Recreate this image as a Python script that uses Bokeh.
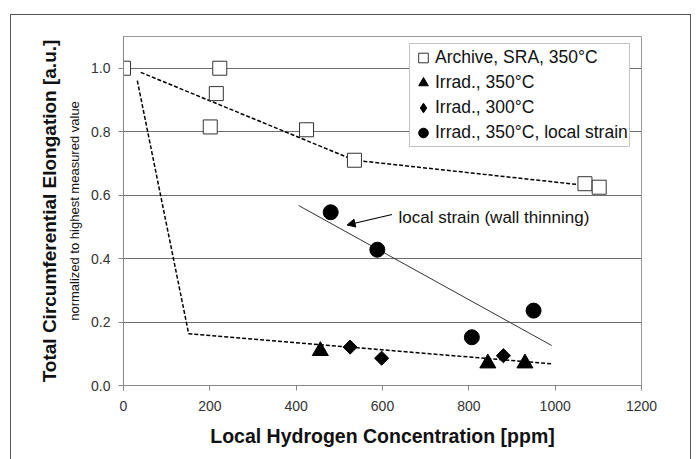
import numpy as np
from bokeh.plotting import figure
from bokeh.models import (Legend, LegendItem, Label, Arrow, NormalHead, LinearAxis,
                          FixedTicker, PrintfTickFormatter, Range1d, InlineStyleSheet)
from bokeh.embed import file_html
from bokeh.resources import INLINE

# ---- data ----
archive_h = [0, 201, 215, 223, 424, 535, 1069, 1102]
archive_el = [1.0, 0.815, 0.92, 1.0, 0.806, 0.71, 0.636, 0.625]
irr350_h = [456, 844, 930]
irr350_el = [0.109, 0.070, 0.070]
irr300_h = [525, 598, 880]
irr300_el = [0.121, 0.086, 0.094]
local_h = [480, 588, 807, 950]
local_el = [0.546, 0.428, 0.152, 0.236]
archive_trend_h = [40, 535, 1055]
archive_trend_el = [0.987, 0.71, 0.633]
irrad_trend_h = [32, 151, 994]
irrad_trend_el = [0.961, 0.163, 0.068]
local_trend_h = [406, 992]
local_trend_el = [0.567, 0.126]
x_ticks = [0, 200, 400, 600, 800, 1000, 1200]
y_ticks = [0.0, 0.2, 0.4, 0.6, 0.8, 1.0]
series_labels = ["Archive, SRA, 350°C", "Irrad., 350°C", "Irrad., 300°C",
                 "Irrad., 350°C, local strain"]
note_text = "local strain (wall thinning)"
x_title = "Local Hydrogen Concentration [ppm]"
y_title = "Total Circumferential Elongation [a.u.]"
y_subtitle = "normalized to highest measured value"

FONT = "Liberation Sans"

frame_css = InlineStyleSheet(css="""
:host { overflow: hidden; }
:host::after {
  content: "";
  position: absolute;
  left: 10px; top: 14px;
  width: 681px; height: 520px;
  border: 1.2px solid #555555;
  box-sizing: border-box;
  pointer-events: none;
  z-index: 10;
}
""")

p = figure(width=696, height=459, output_backend="svg", toolbar_location=None,
           x_range=Range1d(0, 1200), y_range=Range1d(0, 1.1),
           min_border_left=123, min_border_right=55, min_border_top=36, min_border_bottom=74,
           stylesheets=[frame_css])
p.background_fill_color = "white"
p.border_fill_color = "white"
p.outline_line_color = "#999999"
p.outline_line_width = 1

# grid & axes
p.xgrid.visible = False
p.ygrid.ticker = FixedTicker(ticks=y_ticks)
p.ygrid.grid_line_color = "#6e6e6e"
p.ygrid.grid_line_width = 1

for ax in (p.xaxis[0], p.yaxis[0]):
    ax.axis_line_color = "#888888"
    ax.major_tick_line_color = "#888888"
    ax.major_tick_out = 5
    ax.major_tick_in = 0
    ax.minor_tick_line_color = None
    ax.major_label_text_font = FONT
    ax.major_label_text_font_size = "14px"
    ax.major_label_text_color = "#333333"

p.xaxis.ticker = FixedTicker(ticks=x_ticks)
p.yaxis.ticker = FixedTicker(ticks=y_ticks)
p.yaxis.formatter = PrintfTickFormatter(format="%.1f")
p.xaxis.major_label_standoff = 10
p.yaxis.major_label_standoff = 8
p.xaxis.axis_label = x_title
p.xaxis.axis_label_text_font = FONT
p.xaxis.axis_label_text_font_style = "bold"
p.xaxis.axis_label_text_font_size = "19.5px"
p.xaxis.axis_label_text_color = "#111111"
p.xaxis.axis_label_standoff = 11


def title_axis(text, size, style, standoff):
    ax = LinearAxis(ticker=FixedTicker(ticks=[]), axis_label=text)
    ax.axis_line_color = None
    ax.major_tick_out = 0
    ax.major_tick_in = 0
    ax.minor_tick_out = 0
    ax.minor_tick_in = 0
    ax.major_label_text_font_size = "1px"
    ax.major_label_standoff = 0
    ax.axis_label_text_font = FONT
    ax.axis_label_text_font_size = size
    ax.axis_label_text_font_style = style
    ax.axis_label_text_color = "#111111"
    ax.axis_label_standoff = standoff
    return ax


p.add_layout(title_axis(y_subtitle, "13px", "normal", 7), "left")
p.add_layout(title_axis(y_title, "19px", "bold", 4), "left")

# trend lines
p.line(archive_trend_h, archive_trend_el, line_color="black", line_width=1.5, line_dash="4 2")
p.line(irrad_trend_h, irrad_trend_el, line_color="black", line_width=1.5, line_dash="4 2")
p.line(local_trend_h, local_trend_el, line_color="#333333", line_width=1)

# markers
r_arch = p.scatter(archive_h, archive_el, marker="square", size=14, fill_color="white",
                   line_color="#333333", line_width=1)
r_350 = p.scatter(irr350_h, irr350_el, marker="triangle", size=16, fill_color="black",
                  line_color="black")
r_300 = p.scatter(irr300_h, irr300_el, marker="square", angle=np.pi / 4, size=10,
                  fill_color="black", line_color="black")
# same points, zero size: only supplies an upright diamond for the legend
r_300_key = p.scatter(irr300_h, irr300_el, marker="diamond", size=0,
                      fill_color="black", line_color="black")
r_loc = p.scatter(local_h, local_el, marker="circle", size=15, fill_color="black",
                  line_color="black")

# annotation
p.add_layout(Arrow(end=NormalHead(size=8, fill_color="black", line_color="black"),
                   x_start=622, y_start=0.539, x_end=518, y_end=0.506,
                   line_color="black", line_width=1.2))
p.add_layout(Label(x=637, y=0.531, text=note_text, text_align="left", text_baseline="middle",
                   text_font=FONT, text_font_size="17px", text_color="#111111"))

legend = Legend(items=[LegendItem(label=series_labels[0], renderers=[r_arch]),
                       LegendItem(label=series_labels[1], renderers=[r_350]),
                       LegendItem(label=series_labels[2], renderers=[r_300_key]),
                       LegendItem(label=series_labels[3], renderers=[r_loc])],
                location=(286, 238))
legend.label_text_font = FONT
legend.label_text_font_size = "17.5px"
legend.label_text_color = "#111111"
legend.glyph_width = 24
legend.glyph_height = 25
legend.label_height = 25
legend.label_standoff = 0
legend.spacing = 0
legend.padding = 1
legend.margin = 0
legend.border_line_color = "#888888"
legend.border_line_width = 1
legend.background_fill_color = "white"
legend.background_fill_alpha = 1
p.add_layout(legend, "center")

open("out.html", "w").write(file_html(p, INLINE))
